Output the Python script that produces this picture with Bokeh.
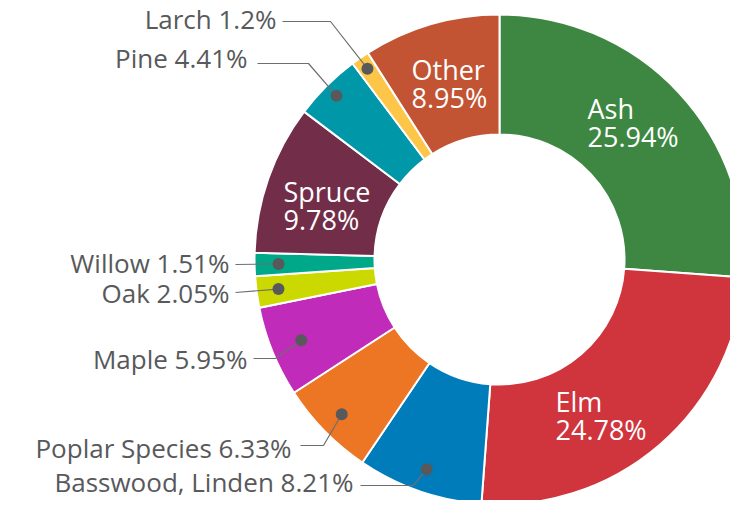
import numpy as np
from bokeh.plotting import figure
from bokeh.models import Range1d, ColumnDataSource
from bokeh.core.properties import value
from bokeh.embed import file_html
from bokeh.resources import INLINE

# ---- data (clockwise from top) ----
species = ["Ash", "Elm", "Basswood, Linden", "Poplar Species", "Maple", "Oak",
           "Willow", "Spruce", "Pine", "Larch", "Other"]
shares = [25.94, 24.78, 8.21, 6.33, 5.95, 2.05, 1.51, 9.78, 4.41, 1.2, 8.95]
colors = ["#3e8742", "#d0343c", "#007cba", "#ec7623", "#c02cb9", "#ccd900",
          "#00a88a", "#722d49", "#0098a8", "#fec648", "#c25333"]
inside = ["Ash", "Elm", "Spruce", "Other"]
outside = ["Larch", "Pine", "Willow", "Oak", "Maple", "Poplar Species", "Basswood, Linden"]

# ---- layout (picture pixel coordinates) ----
CX, CY = 499, 259
R_IN, R_OUT = 125, 245
FONT = "Open Sans"
GREY = "#58595b"

W, H = 730, 500
p = figure(width=W, height=H, output_backend="svg", toolbar_location=None,
           x_range=Range1d(0, W), y_range=Range1d(-H, 0),
           min_border=0)
p.axis.visible = False
p.grid.visible = False
p.outline_line_color = None
p.background_fill_color = "white"

vals = np.array(shares, dtype=float)
frac = vals / vals.sum()
cum_end = np.cumsum(frac)
cum_start = cum_end - frac
start = np.pi / 2 - cum_start * 2 * np.pi
end = np.pi / 2 - cum_end * 2 * np.pi
mid = np.pi / 2 - (cum_start + frac / 2) * 2 * np.pi

src = ColumnDataSource(dict(start=start, end=end, color=colors))
p.annular_wedge(x=CX, y=-CY, inner_radius=R_IN, outer_radius=R_OUT,
                start_angle="start", end_angle="end", direction="clock",
                fill_color="color", line_color="white", line_width=2, source=src)

def label_text(name):
    v = shares[species.index(name)]
    return f"{name} {v:g}%"

# inside labels: left x, middle y of first line
in_pos = {"Ash": (587, 108), "Elm": (555, 401), "Spruce": (283, 191), "Other": (411, 69)}
for name in inside:
    x, y = in_pos[name]
    v = shares[species.index(name)]
    p.text(x=[x, x], y=[-y, -(y + 28)], text=[name, f"{v:g}%"],
           text_font=value(FONT), text_font_size="27px", text_color="white",
           text_baseline="middle", text_align="left")

# outside labels: text right end, middle y, line y, line start x, elbow x, dot radius
out_pos = {
    "Larch": (276, 18, 21, 282, 330, 232),
    "Pine": (247, 57, 63, 257, 308, 231),
    "Willow": (229, 262, 264, 235, None, 221),
    "Oak": (229, 292, 292, 235, None, 223),
    "Maple": (247, 358, 358, 253, 275, 214),
    "Poplar Species": (291, 447, 445, 300, 323, 221),
    "Basswood, Linden": (353, 481, 485, 360, 413, 222),
}
for name in outside:
    tx, ty, ly, lx0, ex, rd = out_pos[name]
    i = species.index(name)
    dx = CX + rd * np.cos(mid[i])
    dy = CY - rd * np.sin(mid[i])
    if ex is None:
        xs, ys = [lx0, dx], [-ly, -dy]
    else:
        xs, ys = [lx0, ex, dx], [-ly, -ly, -dy]
    p.line(xs, ys, line_color="#6d6e70", line_width=1.2)
    p.scatter([dx], [-dy], size=12, fill_color=GREY, line_color=None)
    p.text(x=[tx], y=[-ty], text=[label_text(name)], text_font=value(FONT),
           text_font_size="26px", text_color=GREY, text_baseline="middle",
           text_align="right")

open("out.html", "w").write(file_html(p, INLINE))
